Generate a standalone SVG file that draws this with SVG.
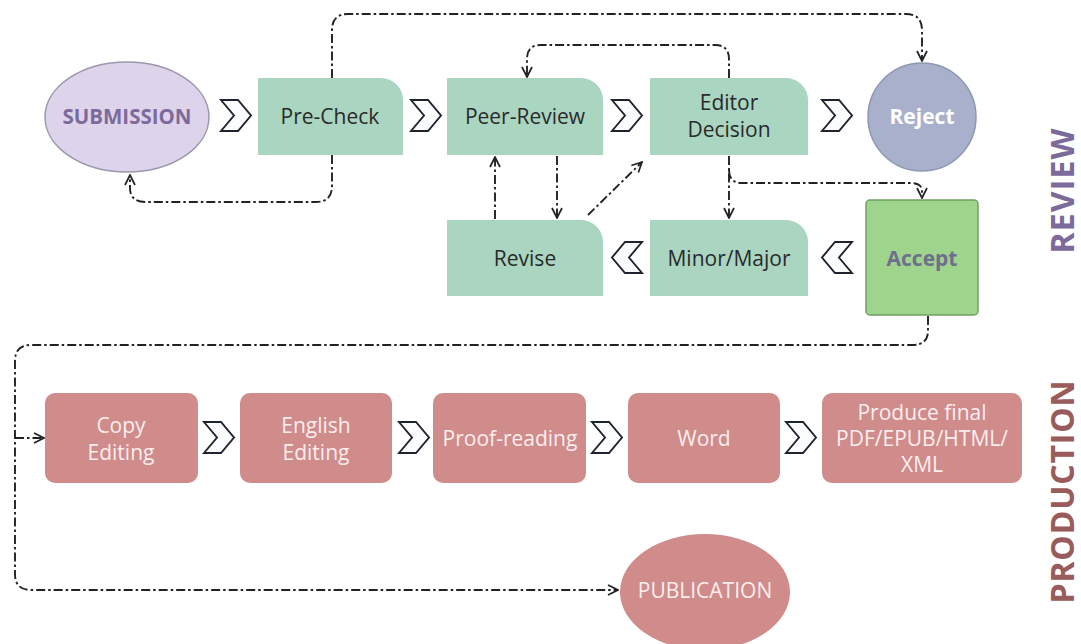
<svg xmlns="http://www.w3.org/2000/svg" width="1081" height="644" viewBox="0 0 1081 644">
<defs>
<style>
.g{fill:#a9d5c1}
.r{fill:#d08b8b}
.t{font-family:"Open Sans","Noto Sans",sans-serif;font-size:21px;text-anchor:middle;dominant-baseline:central}
.dk{fill:#2a2a2a}
.wt{fill:#fbeeee}
.ch{fill:#fbfcfd;stroke:#1f2330;stroke-width:1.9;stroke-linejoin:miter}
.c{fill:none;stroke:#222222;stroke-width:1.9;stroke-dasharray:9 3 2.5 3}
.c.a{marker-end:url(#ah)}
</style>
<marker id="ah" viewBox="0 0 12 12" refX="11" refY="6" markerWidth="12" markerHeight="12" markerUnits="userSpaceOnUse" orient="auto">
<path d="M1,1 L11,6 L1,11" fill="none" stroke="#222222" stroke-width="1.7"/>
</marker>
<path id="chr" d="M0,0 H17 L30,15.5 L17,31 H0 L13,15.5 Z"/>
<path id="chl" d="M30,0 H13 L0,15.5 L13,31 H30 L17,15.5 Z"/>
</defs>
<rect width="1081" height="644" fill="#ffffff"/>

<g id="connectors">
<path class="c a" d="M332,78 V30 Q332,14 348,14 H906 Q922,14 922,30 V61"/>
<path class="c a" d="M332,155 V186 Q332,202 316,202 H146 Q130,202 130,188 V175"/>
<path class="c a" d="M729,78 V59 Q729,45 715,45 H541 Q527,45 527,59 V77"/>
<path class="c a" d="M557,156 V218"/>
<path class="c a" d="M495,219 V157"/>
<path class="c a" d="M588,215 L642,162"/>
<path class="c a" d="M729,156 V218"/>
<path class="c a" d="M729,170 Q729,183 742,183 H910 Q922,183 922,191 V198"/>
<path class="c a" d="M928,316 V331 Q928,345 912,345 H31 Q15,345 15,361 V574 Q15,590 31,590 H618"/>
<path class="c a" d="M15,438 H44"/>
</g>

<g id="chevrons">
<use href="#chr" class="ch" x="221" y="100"/>
<use href="#chr" class="ch" x="411" y="100"/>
<use href="#chr" class="ch" x="612" y="100"/>
<use href="#chr" class="ch" x="822" y="100"/>
<use href="#chl" class="ch" x="822" y="242"/>
<use href="#chl" class="ch" x="612" y="242"/>
<use href="#chr" class="ch" x="204" y="422"/>
<use href="#chr" class="ch" x="399" y="422"/>
<use href="#chr" class="ch" x="592" y="422"/>
<use href="#chr" class="ch" x="786" y="422"/>
</g>

<g id="submission">
<ellipse cx="127" cy="117" rx="82" ry="55" fill="#ddd4eb" stroke="#9d97ab" stroke-width="1.5"/>
<text class="t" x="127" y="116" font-weight="bold" fill="#7c6a9b" style="font-size:20.5px">SUBMISSION</text>
</g>
<g id="pre-check">
<path class="g" d="M258,78 H381 A22,22 0 0 1 403,100 V155 H258 Z"/>
<text class="t dk" x="330" y="116">Pre-Check</text>
</g>
<g id="peer-review">
<path class="g" d="M447,78 H581 A22,22 0 0 1 603,100 V155 H447 Z"/>
<text class="t dk" x="525" y="116">Peer-Review</text>
</g>
<g id="editor-decision">
<path class="g" d="M650,78 H786 A22,22 0 0 1 808,100 V155 H650 Z"/>
<text class="t dk" x="729" y="102">Editor</text>
<text class="t dk" x="729" y="129">Decision</text>
</g>
<g id="reject">
<circle cx="922" cy="117" r="54" fill="#a9b0cb" stroke="#8f97b4" stroke-width="1.5"/>
<text class="t" x="922" y="116" font-weight="bold" fill="#ffffff">Reject</text>
</g>
<g id="accept">
<rect x="866" y="200" width="112" height="115" rx="4" fill="#9fd48d" stroke="#6f9f62" stroke-width="1.5"/>
<text class="t" x="922" y="258" font-weight="bold" fill="#6e6f8c">Accept</text>
</g>
<g id="minor-major">
<path class="g" d="M650,220 H786 A22,22 0 0 1 808,242 V296 H650 Z"/>
<text class="t dk" x="729" y="258">Minor/Major</text>
</g>
<g id="revise">
<path class="g" d="M447,220 H581 A22,22 0 0 1 603,242 V296 H447 Z"/>
<text class="t dk" x="525" y="258">Revise</text>
</g>

<g id="copy-editing">
<rect class="r" x="45" y="393" width="153" height="90" rx="10"/>
<text class="t wt" x="121" y="425">Copy</text>
<text class="t wt" x="121" y="452">Editing</text>
</g>
<g id="english-editing">
<rect class="r" x="240" y="393" width="152" height="90" rx="10"/>
<text class="t wt" x="316" y="425">English</text>
<text class="t wt" x="316" y="452">Editing</text>
</g>
<g id="proof-reading">
<rect class="r" x="433" y="393" width="153" height="90" rx="10"/>
<text class="t wt" x="510" y="438">Proof-reading</text>
</g>
<g id="word">
<rect class="r" x="628" y="393" width="152" height="90" rx="10"/>
<text class="t wt" x="704" y="438">Word</text>
</g>
<g id="produce-final">
<rect class="r" x="822" y="393" width="200" height="90" rx="10"/>
<text class="t wt" x="922" y="412">Produce final</text>
<text class="t wt" x="922" y="438">PDF/EPUB/HTML/</text>
<text class="t wt" x="922" y="464">XML</text>
</g>
<g id="publication">
<ellipse class="r" cx="705" cy="592" rx="85" ry="58"/>
<text class="t wt" x="705" y="590">PUBLICATION</text>
</g>

<g id="labels">
<text x="0" y="0" transform="translate(1061,191) rotate(-90)" font-family="'Open Sans','Noto Sans',sans-serif" font-weight="bold" font-size="32" fill="#7c6a9b" text-anchor="middle" dominant-baseline="central" textLength="125">REVIEW</text>
<text x="0" y="0" transform="translate(1061,492) rotate(-90)" font-family="'Open Sans','Noto Sans',sans-serif" font-weight="bold" font-size="32" fill="#9a5b5b" text-anchor="middle" dominant-baseline="central" textLength="223">PRODUCTION</text>
</g>
</svg>
